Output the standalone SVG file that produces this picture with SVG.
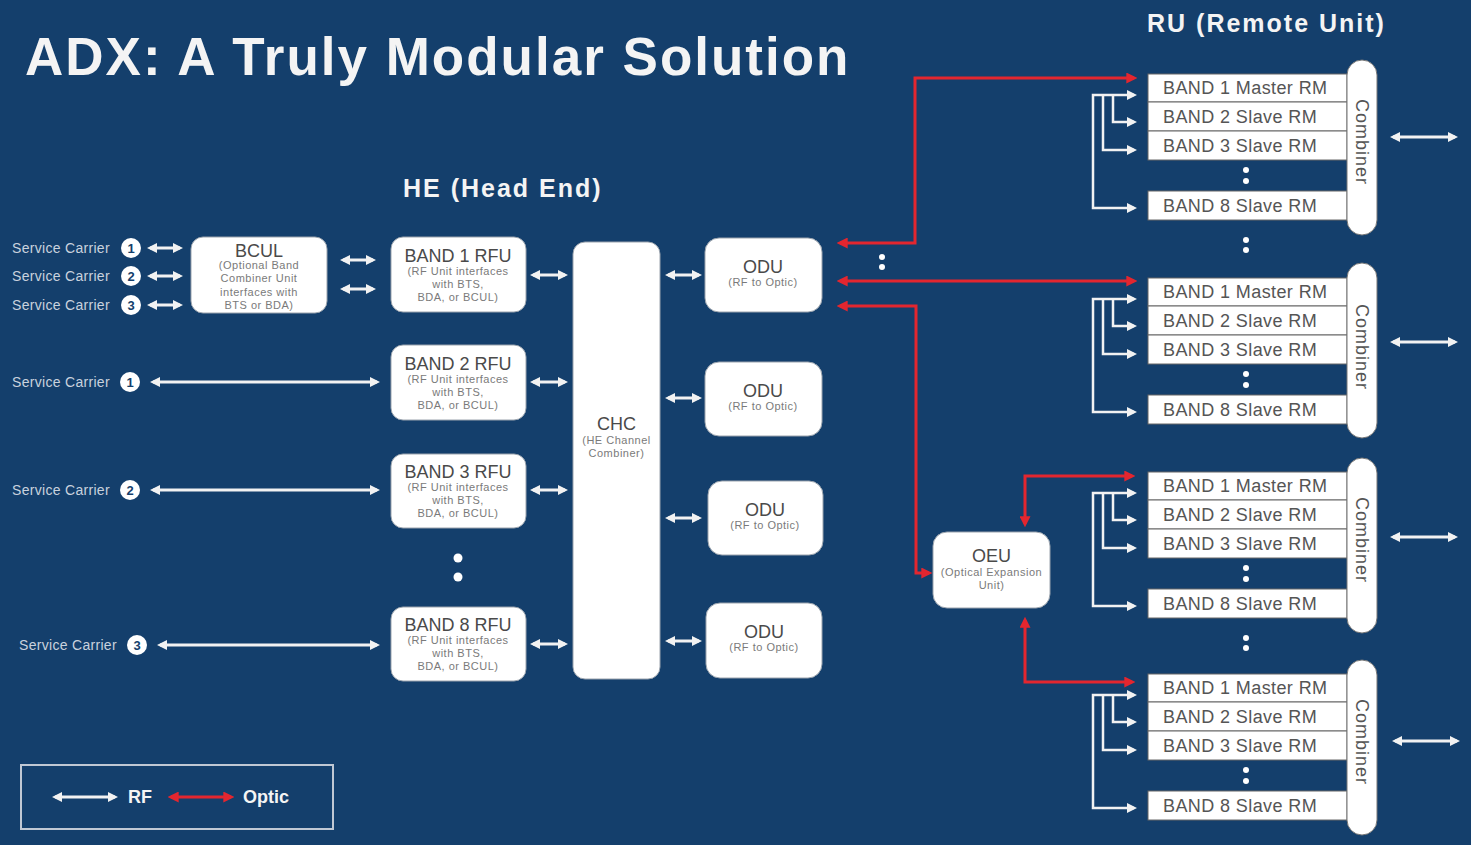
<svg xmlns="http://www.w3.org/2000/svg" width="1471" height="845" viewBox="0 0 1471 845">
<defs>
<style>
text{font-family:"Liberation Sans",Arial,sans-serif}
.ttl{fill:#f4f4f4;font-weight:bold}
.box{fill:#fff;stroke:#9aa3ad;stroke-width:1}
.t1{fill:#4a4a4a;font-size:18px;text-anchor:middle}
.t2{fill:#7a7a7a;font-size:11px;text-anchor:middle;letter-spacing:0.5px}
.sc{fill:#c9d2de;font-size:14px;letter-spacing:0.3px}
.num{fill:#143f6c;font-size:13px;font-weight:bold;text-anchor:middle}
.rf{stroke:#f2f2f2;stroke-width:3;fill:none}
.rft{stroke:#f2f2f2;stroke-width:2.5;fill:none}
.op{stroke:#e3262f;stroke-width:3;fill:none}
.rm{fill:#fff;stroke:#666;stroke-width:1}
.rmt{fill:#555;font-size:18px;letter-spacing:0.4px}
.cmb{fill:#fff;stroke:#777;stroke-width:1}
.cmbt{fill:#555;font-size:18px;text-anchor:middle;letter-spacing:1px}
.dot{fill:#fff}
</style>
<marker id="aw" viewBox="0 0 10 10" refX="7" refY="5" markerWidth="10" markerHeight="10" markerUnits="userSpaceOnUse" orient="auto-start-reverse"><path d="M0,0 L10,5 L0,10 z" fill="#f2f2f2"/></marker>
<marker id="ar" viewBox="0 0 10 10" refX="7" refY="5" markerWidth="11" markerHeight="11" markerUnits="userSpaceOnUse" orient="auto-start-reverse"><path d="M0,0 L10,5 L0,10 z" fill="#e3262f"/></marker>
</defs>
<rect width="1471" height="845" fill="#143f6c"/>

<text class="ttl" x="25" y="75" font-size="53" letter-spacing="2">ADX: A Truly Modular Solution</text>
<text class="ttl" x="1147" y="32" font-size="25" letter-spacing="2">RU (Remote Unit)</text>
<text class="ttl" x="403" y="197" font-size="25" letter-spacing="2">HE (Head End)</text>

<g id="carriers">
<text class="sc" x="12" y="253">Service Carrier</text>
<circle cx="131" cy="248" r="10" fill="#fff"/><text class="num" x="131" y="253">1</text>
<text class="sc" x="12" y="281">Service Carrier</text>
<circle cx="131" cy="276" r="10" fill="#fff"/><text class="num" x="131" y="281">2</text>
<text class="sc" x="12" y="310">Service Carrier</text>
<circle cx="131" cy="305" r="10" fill="#fff"/><text class="num" x="131" y="310">3</text>
<text class="sc" x="12" y="387">Service Carrier</text>
<circle cx="130" cy="382" r="10" fill="#fff"/><text class="num" x="130" y="387">1</text>
<text class="sc" x="12" y="495">Service Carrier</text>
<circle cx="130" cy="490" r="10" fill="#fff"/><text class="num" x="130" y="495">2</text>
<text class="sc" x="19" y="650">Service Carrier</text>
<circle cx="137" cy="645" r="10" fill="#fff"/><text class="num" x="137" y="650">3</text>
</g>

<g id="bcul">
<rect class="box" x="191" y="237" width="136" height="76" rx="12"/>
<text class="t1" x="259" y="257">BCUL</text>
<text class="t2" x="259" y="269">(Optional Band</text>
<text class="t2" x="259" y="282">Combiner Unit</text>
<text class="t2" x="259" y="296">interfaces with</text>
<text class="t2" x="259" y="309">BTS or BDA)</text>
</g>

<g id="rfu1">
<rect class="box" x="391" y="237" width="135" height="75" rx="12"/>
<text class="t1" x="458" y="262">BAND 1 RFU</text>
<text class="t2" x="458" y="275">(RF Unit interfaces</text>
<text class="t2" x="458" y="288">with BTS,</text>
<text class="t2" x="458" y="301">BDA, or BCUL)</text>
</g>
<g id="rfu2">
<rect class="box" x="391" y="345" width="135" height="75" rx="12"/>
<text class="t1" x="458" y="370">BAND 2 RFU</text>
<text class="t2" x="458" y="383">(RF Unit interfaces</text>
<text class="t2" x="458" y="396">with BTS,</text>
<text class="t2" x="458" y="409">BDA, or BCUL)</text>
</g>
<g id="rfu3">
<rect class="box" x="391" y="454" width="135" height="74" rx="12"/>
<text class="t1" x="458" y="478">BAND 3 RFU</text>
<text class="t2" x="458" y="491">(RF Unit interfaces</text>
<text class="t2" x="458" y="504">with BTS,</text>
<text class="t2" x="458" y="517">BDA, or BCUL)</text>
</g>
<g id="rfu8">
<rect class="box" x="391" y="607" width="135" height="74" rx="12"/>
<text class="t1" x="458" y="631">BAND 8 RFU</text>
<text class="t2" x="458" y="644">(RF Unit interfaces</text>
<text class="t2" x="458" y="657">with BTS,</text>
<text class="t2" x="458" y="670">BDA, or BCUL)</text>
</g>
<circle class="dot" cx="458" cy="558" r="4.5"/>
<circle class="dot" cx="458" cy="577" r="4.5"/>

<g id="chc">
<rect class="box" x="573" y="242" width="87" height="437" rx="12"/>
<text class="t1" x="616.5" y="430">CHC</text>
<text class="t2" x="616.5" y="444">(HE Channel</text>
<text class="t2" x="616.5" y="457">Combiner)</text>
</g>

<g id="odu1">
<rect class="box" x="705" y="238" width="117" height="74" rx="14"/>
<text class="t1" x="763" y="273">ODU</text>
<text class="t2" x="763" y="286">(RF to Optic)</text>
</g>
<g id="odu2">
<rect class="box" x="705" y="362" width="117" height="74" rx="14"/>
<text class="t1" x="763" y="397">ODU</text>
<text class="t2" x="763" y="410">(RF to Optic)</text>
</g>
<g id="odu3">
<rect class="box" x="708" y="481" width="115" height="74" rx="14"/>
<text class="t1" x="765" y="516">ODU</text>
<text class="t2" x="765" y="529">(RF to Optic)</text>
</g>
<g id="odu4">
<rect class="box" x="706" y="603" width="116" height="75" rx="14"/>
<text class="t1" x="764" y="638">ODU</text>
<text class="t2" x="764" y="651">(RF to Optic)</text>
</g>

<g id="oeu">
<rect class="box" x="933" y="532" width="117" height="76" rx="14"/>
<text class="t1" x="991.5" y="562">OEU</text>
<text class="t2" x="991.5" y="576">(Optical Expansion</text>
<text class="t2" x="991.5" y="589">Unit)</text>
</g>

<g id="ru1">
<rect class="rm" x="1148" y="74" width="199" height="28"/><text class="rmt" x="1163" y="94">BAND 1 Master RM</text>
<rect class="rm" x="1148" y="102" width="199" height="29"/><text class="rmt" x="1163" y="123">BAND 2 Slave RM</text>
<rect class="rm" x="1148" y="131" width="199" height="29"/><text class="rmt" x="1163" y="152">BAND 3 Slave RM</text>
<rect class="rm" x="1148" y="191" width="199" height="29"/><text class="rmt" x="1163" y="212">BAND 8 Slave RM</text>
<circle class="dot" cx="1246" cy="170" r="3"/><circle class="dot" cx="1246" cy="181" r="3"/>
<rect class="cmb" x="1347" y="60" width="30" height="175" rx="15"/>
<text class="cmbt" transform="translate(1362,142) rotate(90)" x="0" y="6">Combiner</text>
</g>
<g id="ru2">
<rect class="rm" x="1148" y="278" width="199" height="28"/><text class="rmt" x="1163" y="298">BAND 1 Master RM</text>
<rect class="rm" x="1148" y="306" width="199" height="29"/><text class="rmt" x="1163" y="327">BAND 2 Slave RM</text>
<rect class="rm" x="1148" y="335" width="199" height="29"/><text class="rmt" x="1163" y="356">BAND 3 Slave RM</text>
<rect class="rm" x="1148" y="395" width="199" height="29"/><text class="rmt" x="1163" y="416">BAND 8 Slave RM</text>
<circle class="dot" cx="1246" cy="374" r="3"/><circle class="dot" cx="1246" cy="385" r="3"/>
<rect class="cmb" x="1347" y="263" width="30" height="175" rx="15"/>
<text class="cmbt" transform="translate(1362,347) rotate(90)" x="0" y="6">Combiner</text>
</g>
<g id="ru3">
<rect class="rm" x="1148" y="472" width="199" height="28"/><text class="rmt" x="1163" y="492">BAND 1 Master RM</text>
<rect class="rm" x="1148" y="500" width="199" height="29"/><text class="rmt" x="1163" y="521">BAND 2 Slave RM</text>
<rect class="rm" x="1148" y="529" width="199" height="29"/><text class="rmt" x="1163" y="550">BAND 3 Slave RM</text>
<rect class="rm" x="1148" y="589" width="199" height="29"/><text class="rmt" x="1163" y="610">BAND 8 Slave RM</text>
<circle class="dot" cx="1246" cy="568" r="3"/><circle class="dot" cx="1246" cy="579" r="3"/>
<rect class="cmb" x="1347" y="458" width="30" height="175" rx="15"/>
<text class="cmbt" transform="translate(1362,540) rotate(90)" x="0" y="6">Combiner</text>
</g>
<g id="ru4">
<rect class="rm" x="1148" y="674" width="199" height="28"/><text class="rmt" x="1163" y="694">BAND 1 Master RM</text>
<rect class="rm" x="1148" y="702" width="199" height="29"/><text class="rmt" x="1163" y="723">BAND 2 Slave RM</text>
<rect class="rm" x="1148" y="731" width="199" height="29"/><text class="rmt" x="1163" y="752">BAND 3 Slave RM</text>
<rect class="rm" x="1148" y="791" width="199" height="29"/><text class="rmt" x="1163" y="812">BAND 8 Slave RM</text>
<circle class="dot" cx="1246" cy="770" r="3"/><circle class="dot" cx="1246" cy="781" r="3"/>
<rect class="cmb" x="1347" y="660" width="30" height="175" rx="15"/>
<text class="cmbt" transform="translate(1362,742) rotate(90)" x="0" y="6">Combiner</text>
</g>
<circle class="dot" cx="1246" cy="240" r="3"/><circle class="dot" cx="1246" cy="250" r="3"/>
<circle class="dot" cx="1246" cy="638" r="3"/><circle class="dot" cx="1246" cy="648" r="3"/>

<g id="connectors">
<g marker-start="url(#aw)" marker-end="url(#aw)">
<line class="rf" x1="150" y1="248" x2="180" y2="248"/>
<line class="rf" x1="150" y1="276" x2="180" y2="276"/>
<line class="rf" x1="150" y1="305" x2="180" y2="305"/>
<line class="rf" x1="343" y1="260" x2="373" y2="260"/>
<line class="rf" x1="343" y1="289" x2="373" y2="289"/>
<line class="rf" x1="153" y1="382" x2="377" y2="382"/>
<line class="rf" x1="153" y1="490" x2="377" y2="490"/>
<line class="rf" x1="160" y1="645" x2="377" y2="645"/>
<line class="rf" x1="533" y1="275" x2="565" y2="275"/>
<line class="rf" x1="533" y1="382" x2="565" y2="382"/>
<line class="rf" x1="533" y1="490" x2="565" y2="490"/>
<line class="rf" x1="533" y1="644" x2="565" y2="644"/>
<line class="rf" x1="668" y1="275" x2="699" y2="275"/>
<line class="rf" x1="668" y1="398" x2="699" y2="398"/>
<line class="rf" x1="668" y1="518" x2="699" y2="518"/>
<line class="rf" x1="668" y1="641" x2="699" y2="641"/>
<line class="rf" x1="1393" y1="137" x2="1455" y2="137"/>
<line class="rf" x1="1393" y1="342" x2="1455" y2="342"/>
<line class="rf" x1="1393" y1="537" x2="1455" y2="537"/>
<line class="rf" x1="1395" y1="741" x2="1457" y2="741"/>
</g>
<g class="rft">
<path d="M1134,95 H1093 V208 H1134" marker-start="url(#aw)" marker-end="url(#aw)"/>
<path d="M1113,95 V122 H1134" marker-end="url(#aw)"/>
<path d="M1103,95 V150 H1134" marker-end="url(#aw)"/>
<path d="M1134,299 H1093 V412 H1134" marker-start="url(#aw)" marker-end="url(#aw)"/>
<path d="M1113,299 V326 H1134" marker-end="url(#aw)"/>
<path d="M1103,299 V354 H1134" marker-end="url(#aw)"/>
<path d="M1134,493 H1093 V606 H1134" marker-start="url(#aw)" marker-end="url(#aw)"/>
<path d="M1113,493 V520 H1134" marker-end="url(#aw)"/>
<path d="M1103,493 V548 H1134" marker-end="url(#aw)"/>
<path d="M1134,695 H1093 V808 H1134" marker-start="url(#aw)" marker-end="url(#aw)"/>
<path d="M1113,695 V722 H1134" marker-end="url(#aw)"/>
<path d="M1103,695 V750 H1134" marker-end="url(#aw)"/>
</g>
<g class="op" marker-end="url(#ar)">
<polyline points="840,243 915,243 915,78 1134,78" marker-start="url(#ar)"/>
<line x1="840" y1="281" x2="1134" y2="281" marker-start="url(#ar)"/>
<polyline points="840,306 916,306 916,573 929,573" marker-start="url(#ar)"/>
<polyline points="1025,524 1025,476 1132,476" marker-start="url(#ar)"/>
<polyline points="1025,620 1025,682 1132,682" marker-start="url(#ar)"/>
</g>
<circle class="dot" cx="882" cy="257" r="3"/>
<circle class="dot" cx="882" cy="267" r="3"/>
</g>

<g id="legend">
<rect x="21" y="765" width="312" height="64" fill="none" stroke="#c0c8d4" stroke-width="2"/>
<line class="rf" x1="55" y1="797" x2="115" y2="797" marker-start="url(#aw)" marker-end="url(#aw)"/>
<text class="ttl" x="128" y="803" font-size="18">RF</text>
<line class="op" x1="171" y1="797" x2="231" y2="797" marker-start="url(#ar)" marker-end="url(#ar)"/>
<text class="ttl" x="243" y="803" font-size="18">Optic</text>
</g>
</svg>
